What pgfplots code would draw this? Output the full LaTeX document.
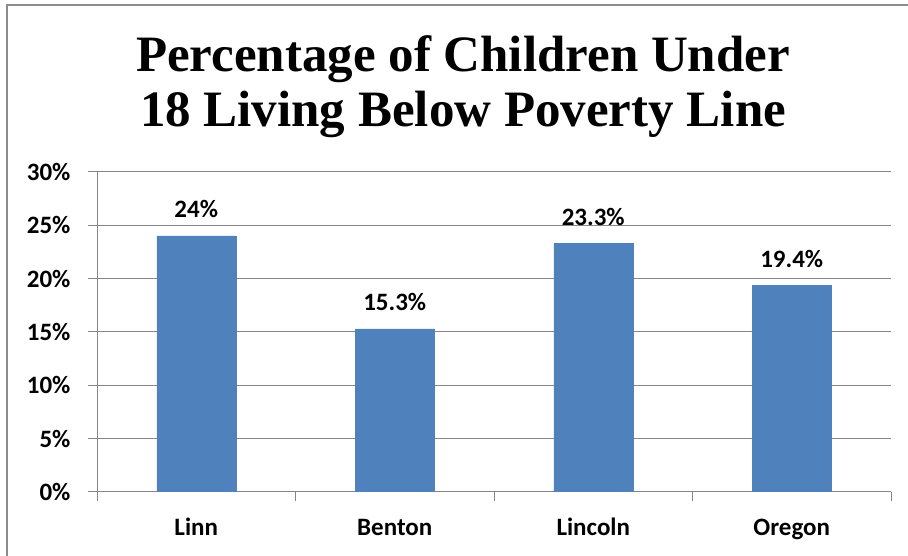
\documentclass[border=0pt]{standalone}
\usepackage{pgfplots}
\pgfplotsset{compat=1.18}
\usepackage{fontspec}
\setmainfont{Carlito}
\newfontfamily\titlefont{Liberation Serif}
\definecolor{barblue}{HTML}{4F81BD}
\definecolor{gridgray}{HTML}{868686}
\definecolor{framegray}{HTML}{8C8C8C}
\begin{document}
\begin{tikzpicture}[x=1pt,y=1pt]
\useasboundingbox (0,0) rectangle (908,556);
\draw[framegray, line width=2pt] (7,-3) -- (7,551) -- (911,551);
\node[anchor=base, inner sep=0pt, font=\titlefont\bfseries\fontsize{51}{55}\selectfont] at (463,484) {Percentage of Children Under};
\node[anchor=base, inner sep=0pt, font=\titlefont\bfseries\fontsize{51}{55}\selectfont] at (463,429) {18 Living Below Poverty Line};
\begin{axis}[
  at={(97pt,64pt)}, anchor=south west,
  scale only axis, width=794pt, height=320pt,
  xmin=-0.5, xmax=3.5, ymin=0, ymax=30,
  ybar, bar width=79pt,
  xtick={-0.5,0.5,1.5,2.5,3.5}, x tick label as interval,
  xticklabels={Linn,Benton,Lincoln,Oregon},
  ytick={0,5,...,30},
  yticklabel={\pgfmathprintnumber{\tick}\%},
  /pgf/number format/assume math mode=true,
  axis x line*=bottom, axis y line*=left,
  axis line style={gridgray, line width=1pt, -},
  ymajorgrids, grid style={gridgray, line width=1pt},
  tick align=outside, major tick length=9pt,
  tick style={gridgray, line width=1pt},
  ticklabel style={font=\bfseries\fontsize{25}{30}\selectfont, text=black},
  xticklabel style={anchor=base, yshift=-35pt},
  yticklabel style={anchor=east, xshift=-14pt},
  nodes near coords={\pgfmathprintnumber{\pgfplotspointmeta}\%},
  every node near coord/.append style={font=\bfseries\fontsize{25}{30}\selectfont, text=black, anchor=base, yshift=18pt},
]
\addplot[fill=barblue, draw=barblue] coordinates {(0,24) (1,15.3) (2,23.3) (3,19.4)};
\end{axis}
\end{tikzpicture}
\end{document}
